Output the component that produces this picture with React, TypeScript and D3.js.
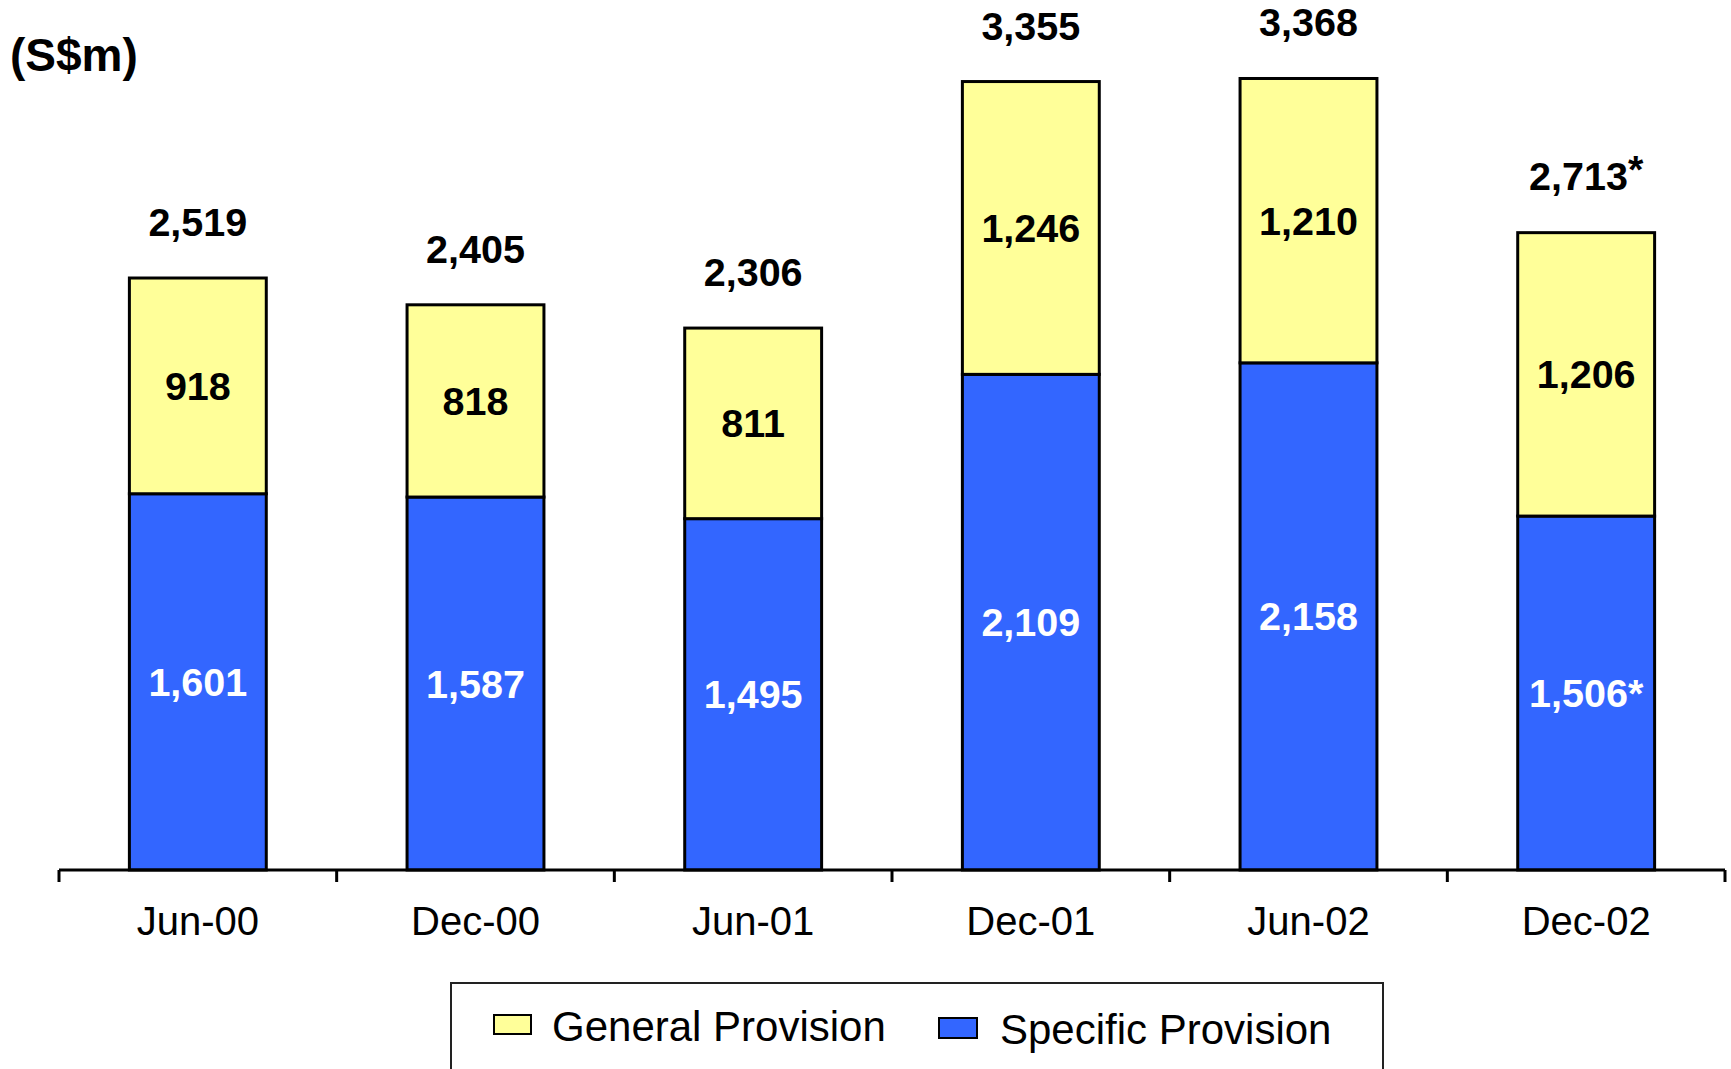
import React from "react";
import * as d3 from "d3";

const categories = ["Jun-00", "Dec-00", "Jun-01", "Dec-01", "Jun-02", "Dec-02"];
const specific = [1601, 1587, 1495, 2109, 2158, 1506];
const general = [918, 818, 811, 1246, 1210, 1206];
const totals = [2519, 2405, 2306, 3355, 3368, 2713];
const totalStar = [false, false, false, false, false, true];
const specificStar = [false, false, false, false, false, true];
const seriesNames = ["General Provision", "Specific Provision"];

const W = 1731;
const H = 1069;
const FONT = "'Liberation Sans', Arial, Helvetica, sans-serif";
const YELLOW = "#FFFF99";
const BLUE = "#3366FF";

const fmt = d3.format(",");

export default function App() {
  const x = d3.scaleBand<string>().domain(categories).range([59, 1725]).padding(0);
  const y = d3.scaleLinear().domain([0, 3702]).range([870, 0]);
  const bw = x.bandwidth() * 0.493;

  const stackData = categories.map((c, i) => ({ cat: c, specific: specific[i], general: general[i] }));
  const stacked = d3.stack<any>().keys(["specific", "general"])(stackData);

  const tickXs = categories.map((c) => x(c) as number).concat([(x(categories[categories.length - 1]) as number) + x.bandwidth()]);

  return (
    <svg width={W} height={H} style={{ position: "absolute", left: 0, top: 0, background: "#fff" }} fontFamily={FONT}>
      <rect x={0} y={0} width={W} height={H} fill="#fff" />
      <text x={10} y={71} fontSize={46} fontWeight="bold" fill="#000">(S$m)</text>

      {stacked.map((layer) =>
        layer.map((d, i) => {
          const cx = (x(categories[i]) as number) + x.bandwidth() / 2;
          const y0 = y(d[0]);
          const y1 = y(d[1]);
          const isSpec = layer.key === "specific";
          return (
            <g key={layer.key + i}>
              <rect x={cx - bw / 2} y={y1} width={bw} height={y0 - y1} fill={isSpec ? BLUE : YELLOW} stroke="#000" strokeWidth={3} />
            </g>
          );
        })
      )}

      {stacked.map((layer) =>
        layer.map((d, i) => {
          const cx = (x(categories[i]) as number) + x.bandwidth() / 2;
          const mid = (y(d[0]) + y(d[1])) / 2;
          const isSpec = layer.key === "specific";
          const val = isSpec ? specific[i] : general[i];
          const star = isSpec && specificStar[i] ? "*" : "";
          return (
            <text key={"l" + layer.key + i} x={cx} y={mid + 14} textAnchor="middle" fontSize={39.5} fontWeight="bold" fill={isSpec ? "#fff" : "#000"}>
              {fmt(val) + star}
            </text>
          );
        })
      )}

      {categories.map((c, i) => {
        const cx = (x(c) as number) + x.bandwidth() / 2;
        return (
          <text key={"t" + c} x={cx} y={y(totals[i]) - 42} textAnchor="middle" fontSize={39.5} fontWeight="bold" fill="#000">
            {fmt(totals[i])}
            {totalStar[i] ? <tspan dy={-7}>*</tspan> : null}
          </text>
        );
      })}

      <line x1={59} x2={1725} y1={870} y2={870} stroke="#000" strokeWidth={3} />
      {tickXs.map((tx, i) => (
        <line key={"tk" + i} x1={tx} x2={tx} y1={870} y2={882} stroke="#000" strokeWidth={3} />
      ))}
      {categories.map((c) => (
        <text key={"ax" + c} x={(x(c) as number) + x.bandwidth() / 2} y={935} textAnchor="middle" fontSize={40} fill="#000">
          {c}
        </text>
      ))}

      <rect x={451} y={983} width={932} height={140} fill="#fff" stroke="#222" strokeWidth={2} />
      <rect x={494} y={1015} width={37} height={19} fill={YELLOW} stroke="#000" strokeWidth={2} />
      <text x={552} y={1041} fontSize={42} fill="#000">{seriesNames[0]}</text>
      <rect x={939} y={1018} width={38} height={20} fill={BLUE} stroke="#000" strokeWidth={2} />
      <text x={1000} y={1044} fontSize={42} fill="#000">{seriesNames[1]}</text>
    </svg>
  );
}
